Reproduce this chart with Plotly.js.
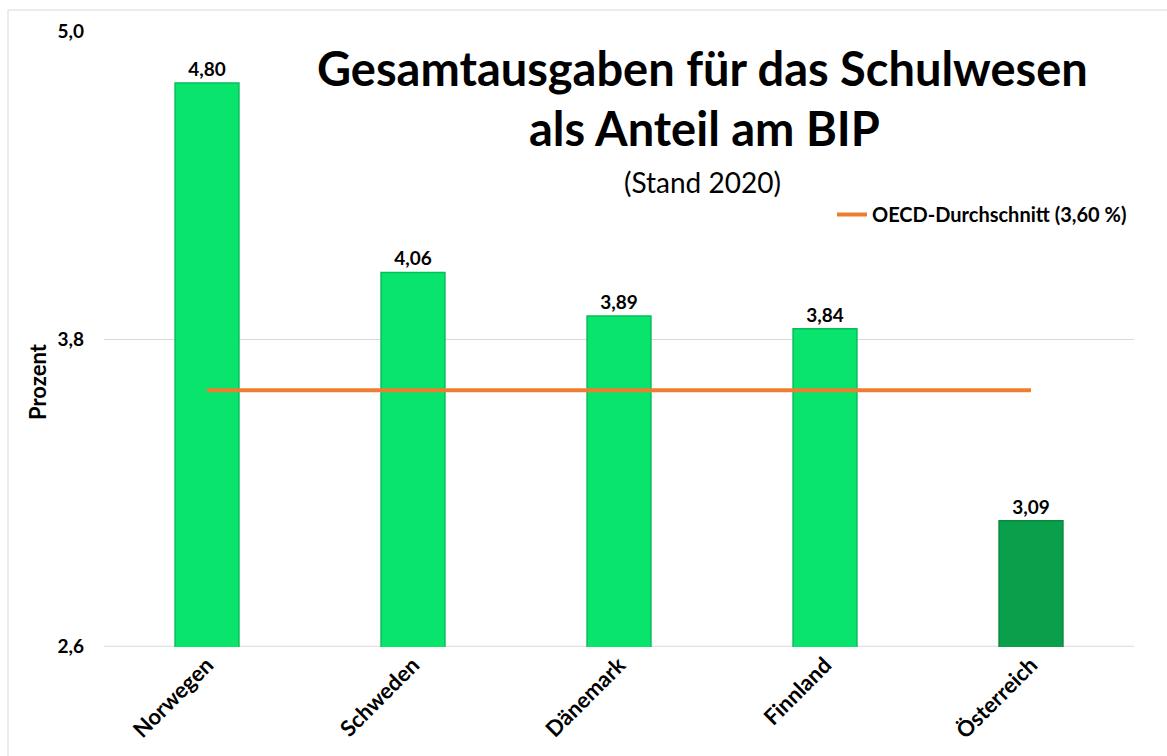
<!DOCTYPE html>
<html>
<head>
<meta charset="utf-8">
<script src="https://cdn.plot.ly/plotly-3.0.1.min.js"></script>
<style>
html,body{margin:0;padding:0;background:#fff;}
#chart{width:1167px;height:756px;}
</style>
</head>
<body>
<div id="chart"></div>
<script>
const categories = ["Norwegen", "Schweden", "Dänemark", "Finnland", "Österreich"];
const values = [4.80, 4.06, 3.89, 3.84, 3.09];
const oecdAverage = [3.60, 3.60, 3.60, 3.60, 3.60];
const yTicks = [2.6, 3.8, 5.0];
const yTickLabels = ["2,6", "3,8", "5,0"];
const oecdLabel = "OECD-Durchschnitt (3,60 %)";

const FONT = "Lato, 'Open Sans', sans-serif";
const barColors = categories.map(c => c === "Österreich" ? "#0AA04B" : "#08E46C");
const barLines = categories.map(c => c === "Österreich" ? "#078A3E" : "#05BE59");

const L = 104, R = 33, T = 31, B = 109;
const W = 1167, H = 756;
const pw = W - L - R, ph = H - T - B;
const px = x => (x - L) / pw;
const py = y => (H - B - y) / ph;

const traces = [
  {
    type: "bar",
    x: categories,
    y: values,
    width: 0.31,
    marker: {color: barColors, line: {color: barLines, width: 1.5}},
    texttemplate: "<b>%{y:.2f}</b>",
    textposition: "outside",
    textfont: {family: FONT, size: 19, color: "#000"},
    cliponaxis: false,
    showlegend: false,
    hoverinfo: "x+y"
  },
  {
    type: "scatter",
    mode: "lines",
    x: categories,
    y: oecdAverage,
    name: "<b>" + oecdLabel + "</b>",
    line: {color: "#ED7D31", width: 4},
    showlegend: true
  }
];

const layout = {
  width: W, height: H,
  margin: {l: L, r: R, t: T, b: B, pad: 0},
  paper_bgcolor: "#fff",
  plot_bgcolor: "#fff",
  separators: ",.",
  font: {family: FONT, color: "#000"},
  xaxis: {
    type: "category",
    tickangle: -45,
    tickvals: categories,
    ticktext: categories.map(c => "<b>" + c + "</b>"),
    tickfont: {family: FONT, size: 22, color: "#000"},
    showgrid: false,
    showline: false,
    ticks: "",
    zeroline: false
  },
  yaxis: {
    range: [2.597, 5.003],
    tickvals: yTicks,
    ticktext: yTickLabels.map(t => "<b>" + t + "</b>"),
    tickfont: {family: FONT, size: 19, color: "#000"},
    ticklabelstandoff: 19,
    showgrid: true,
    gridcolor: "#d9d9d9",
    gridwidth: 1,
    zeroline: false,
    showline: false,
    ticks: ""
  },
  showlegend: true,
  legend: {
    x: px(832), y: py(195), xanchor: "left", yanchor: "top",
    bgcolor: "rgba(0,0,0,0)",
    font: {family: FONT, size: 20, color: "#000"},
    itemwidth: 30
  },
  shapes: [
    {type: "rect", xref: "paper", yref: "paper",
     x0: px(8), x1: px(1180), y0: py(800), y1: py(10),
     line: {color: "#d9d9d9", width: 1}, fillcolor: "rgba(0,0,0,0)", layer: "below"},
    {type: "line", xref: "paper", yref: "y",
     x0: 0, x1: 1, y0: yTicks[0], y1: yTicks[0],
     line: {color: "#d9d9d9", width: 1}, layer: "below"}
  ],
  annotations: [
    {xref: "paper", yref: "paper", x: px(702), y: py(68), text: "<b>Gesamtausgaben für das Schulwesen</b>",
     showarrow: false, font: {family: FONT, size: 47, color: "#000"}, xanchor: "center", yanchor: "middle"},
    {xref: "paper", yref: "paper", x: px(704), y: py(128), text: "<b>als Anteil am BIP</b>",
     showarrow: false, font: {family: FONT, size: 47, color: "#000"}, xanchor: "center", yanchor: "middle"},
    {xref: "paper", yref: "paper", x: px(702), y: py(182), text: "(Stand 2020)",
     showarrow: false, font: {family: FONT, size: 28, color: "#000"}, xanchor: "center", yanchor: "middle"},
    {xref: "paper", yref: "paper", x: px(37), y: py(382), text: "<b>Prozent</b>", textangle: -90,
     showarrow: false, font: {family: FONT, size: 22, color: "#000"}, xanchor: "center", yanchor: "middle"}
  ]
};

Plotly.newPlot("chart", traces, layout, {displayModeBar: false, responsive: false});
</script>
</body>
</html>
